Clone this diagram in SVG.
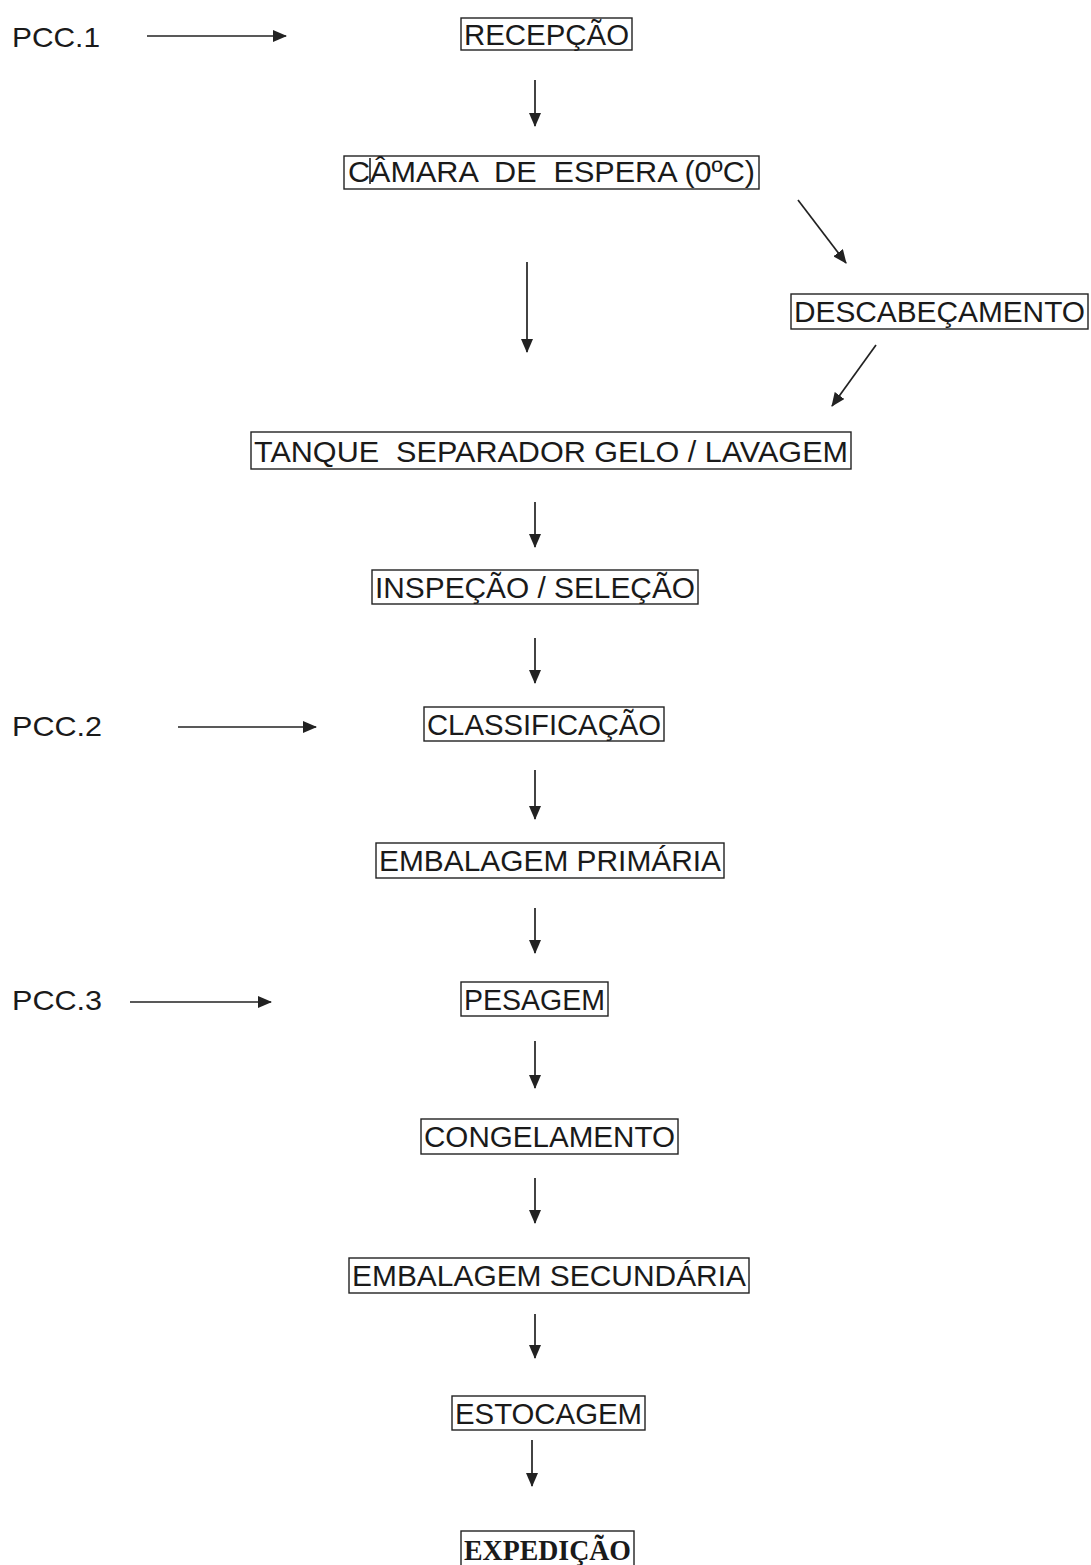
<svg xmlns="http://www.w3.org/2000/svg" width="1091" height="1565" viewBox="0 0 1091 1565">
<defs>
<marker id="ah" markerWidth="14" markerHeight="12" refX="13" refY="6" orient="auto" markerUnits="userSpaceOnUse">
<path d="M0,0 L14,6 L0,12 Z" fill="#222"/>
</marker>
<style>
.box{fill:#fff;stroke:#222;stroke-width:1.4}
.t{font-family:"Liberation Sans",Arial,sans-serif;font-size:30px;fill:#1a1a1a;text-anchor:middle}
.l{font-family:"Liberation Sans",Arial,sans-serif;font-size:28px;fill:#1a1a1a}
.c{stroke:#222;stroke-width:1.7;fill:none;marker-end:url(#ah)}
</style>
</defs>
<rect width="1091" height="1565" fill="#fff"/>
<g id="labels">
<text class="l" x="12" y="47" textLength="88" lengthAdjust="spacingAndGlyphs">PCC.1</text>
<text class="l" x="12" y="736" textLength="90" lengthAdjust="spacingAndGlyphs">PCC.2</text>
<text class="l" x="12" y="1010" textLength="90" lengthAdjust="spacingAndGlyphs">PCC.3</text>
</g>
<g id="n-recepcao"><rect class="box" x="461" y="18" width="171" height="32"/><text class="t" x="546.5" y="45" textLength="165" lengthAdjust="spacingAndGlyphs">RECEPÇÃO</text></g>
<g id="n-camara"><rect class="box" x="344" y="156" width="415" height="33"/><line x1="370" y1="158" x2="370" y2="184" stroke="#222" stroke-width="1.6"/><text class="t" x="551.5" y="182" textLength="407" lengthAdjust="spacingAndGlyphs" xml:space="preserve">CÂMARA  DE  ESPERA (0ºC)</text></g>
<g id="n-descab"><rect class="box" x="791" y="294" width="297" height="35"/><text class="t" x="939.5" y="322" textLength="291" lengthAdjust="spacingAndGlyphs">DESCABEÇAMENTO</text></g>
<g id="n-tanque"><rect class="box" x="251" y="432" width="600" height="37"/><text class="t" x="551" y="462" textLength="594" lengthAdjust="spacingAndGlyphs" xml:space="preserve">TANQUE  SEPARADOR GELO / LAVAGEM</text></g>
<g id="n-inspecao"><rect class="box" x="372" y="570" width="326" height="34"/><text class="t" x="535" y="598" textLength="320" lengthAdjust="spacingAndGlyphs">INSPEÇÃO / SELEÇÃO</text></g>
<g id="n-classif"><rect class="box" x="424" y="707" width="240" height="34"/><text class="t" x="544" y="735" textLength="234" lengthAdjust="spacingAndGlyphs">CLASSIFICAÇÃO</text></g>
<g id="n-embprim"><rect class="box" x="376" y="843" width="348" height="35"/><text class="t" x="550" y="871" textLength="342" lengthAdjust="spacingAndGlyphs">EMBALAGEM PRIMÁRIA</text></g>
<g id="n-pesagem"><rect class="box" x="461" y="982" width="147" height="34"/><text class="t" x="534.5" y="1010" textLength="141" lengthAdjust="spacingAndGlyphs">PESAGEM</text></g>
<g id="n-congel"><rect class="box" x="421" y="1119" width="257" height="35"/><text class="t" x="549.5" y="1147" textLength="251" lengthAdjust="spacingAndGlyphs">CONGELAMENTO</text></g>
<g id="n-embsec"><rect class="box" x="349" y="1258" width="400" height="35"/><text class="t" x="549" y="1286" textLength="394" lengthAdjust="spacingAndGlyphs">EMBALAGEM SECUNDÁRIA</text></g>
<g id="n-estoc"><rect class="box" x="452" y="1396" width="193" height="34"/><text class="t" x="548.5" y="1424" textLength="187" lengthAdjust="spacingAndGlyphs">ESTOCAGEM</text></g>
<g id="n-exped"><rect class="box" x="461" y="1531" width="173" height="36"/><text x="547.5" y="1560" text-anchor="middle" font-family="'Liberation Serif','Times New Roman',serif" font-size="29" font-weight="bold" fill="#1a1a1a" textLength="167" lengthAdjust="spacingAndGlyphs">EXPEDIÇÃO</text></g>
<g id="connectors">
<line class="c" x1="147" y1="36" x2="286" y2="36"/>
<line class="c" x1="178" y1="727" x2="316" y2="727"/>
<line class="c" x1="130" y1="1002" x2="271" y2="1002"/>
<line class="c" x1="535" y1="80" x2="535" y2="126"/>
<line class="c" x1="798" y1="200" x2="846" y2="263"/>
<line class="c" x1="527" y1="262" x2="527" y2="352"/>
<line class="c" x1="876" y1="345" x2="832" y2="406"/>
<line class="c" x1="535" y1="502" x2="535" y2="547"/>
<line class="c" x1="535" y1="638" x2="535" y2="683"/>
<line class="c" x1="535" y1="770" x2="535" y2="819"/>
<line class="c" x1="535" y1="908" x2="535" y2="953"/>
<line class="c" x1="535" y1="1041" x2="535" y2="1088"/>
<line class="c" x1="535" y1="1178" x2="535" y2="1223"/>
<line class="c" x1="535" y1="1314" x2="535" y2="1358"/>
<line class="c" x1="532" y1="1440" x2="532" y2="1486"/>
</g>
</svg>
